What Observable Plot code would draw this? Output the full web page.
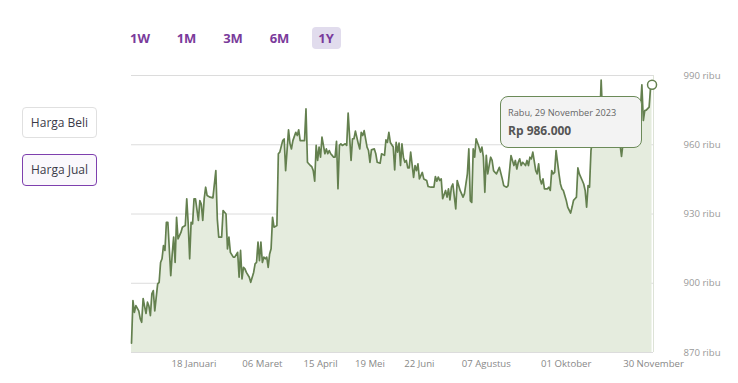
<!DOCTYPE html>
<html>
<head>
<meta charset="utf-8">
<script src="https://cdn.jsdelivr.net/npm/d3@7"></script>
<script src="https://cdn.jsdelivr.net/npm/@observablehq/plot@0.6"></script>
<style>
  html, body { margin: 0; padding: 0; background: #fff; }
  body { font-family: 'Open Sans', sans-serif; }
  #wrap { position: relative; width: 738px; height: 383px; overflow: hidden; }
  #chart { position: absolute; left: 0; top: 0; }
  #ranges { position: absolute; left: 125.5px; top: 27px; display: flex; gap: 17.5px; }
  .rng { width: 29px; height: 22px; line-height: 22px; text-align: center; font-weight: 700; font-size: 13px; color: #7a3b9b; border-radius: 4px; }
  .rng.active { background: #e1dced; }
  .side { position: absolute; left: 22px; width: 75px; box-sizing: border-box; border-radius: 4px; text-align: center; font-size: 12px; color: #3a3a48; }
  #beli { top: 107px; height: 31px; line-height: 29px; border: 1px solid #e0e0e0; background: #fff; }
  #jual { top: 154px; height: 32px; line-height: 30px; border: 1px solid #7e3fae; background: #faf8fc; }
  #tip { position: absolute; left: 500px; top: 96px; width: 142px; height: 52px; box-sizing: border-box; border: 1px solid #6b8a58; border-radius: 8px; background: #f3f3f3; }
  #tipDate { position: absolute; left: 7px; top: 9px; font-size: 9.2px; line-height: 13px; color: #666; white-space: nowrap; }
  #tipVal { position: absolute; left: 7px; top: 26px; font-size: 12px; line-height: 15px; font-weight: 700; color: #555; white-space: nowrap; }
</style>
</head>
<body>
<div id="wrap">
  <div id="chart"></div>
  <div id="ranges"></div>
  <div class="side" id="beli"></div>
  <div class="side" id="jual"></div>
  <div id="tip"><div id="tipDate"></div><div id="tipVal"></div></div>
</div>
<script>
// ---- data (price in thousand rupiah, "ribu"), day offsets from 6 Dec 2022 ----
const startDate = "2022-12-06";
const endDate = "2023-11-30";
const dayOffsets = [0,1,2,3,5,6,7,8,9,10,11,12,13,14,15,16,18,19,20,21,22,23,24,25,27,28,29,30,31,32,34,35,37,38,39,40,41,42,43,44,46,47,48,49,50,51,52,54,56,58,59,60,62,63,65,66,67,68,70,71,73,74,75,76,77,78,79,81,82,84,85,86,87,88,89,90,91,92,93,94,95,96,97,98,100,101,102,104,105,106,108,109,110,111,113,114,115,116,117,119,120,121,123,124,125,126,127,128,129,130,131,132,133,134,135,136,137,138,139,140,141,142,143,144,145,147,148,149,151,152,153,154,156,157,158,159,160,162,163,164,165,167,168,169,171,172,174,175,176,177,178,180,181,182,183,184,185,186,187,188,189,190,191,192,194,195,196,197,198,199,200,201,203,204,206,208,209,210,211,212,213,214,216,217,218,219,220,221,223,224,225,226,228,229,231,232,233,234,235,236,237,239,240,241,242,243,244,245,247,248,249,250,251,252,253,255,256,257,258,259,260,261,263,264,265,266,267,268,269,271,272,273,274,275,276,278,279,280,281,282,283,284,286,287,288,289,290,291,292,294,295,296,297,298,299,300,302,303,304,305,306,307,308,310,311,312,313,314,315,316,317,319,320,321,322,323,324,326,327,328,330,331,332,334,335,336,337,339,340,341,343,344,345,347,348,350,351,352,353,354,356,357,358];
const prices = [874,892.5,887.4,890.3,888,884.7,883.1,893.4,890,886.9,891.8,890,886,895.4,896.8,888,899.7,900.4,909,910.6,916.3,914.2,926.4,926.4,903.3,912.7,920,909,928.6,919.2,922,924.3,925,936.6,925.7,910.6,926.4,925.7,936.6,936.6,927.2,935.8,934.3,927.2,936.6,941.6,938,937.3,937,948.8,927.9,920,920,931.5,930,914.9,920,913.4,911.3,911.3,913.4,902.6,914.2,901.9,906.9,906.2,904.7,902.6,900.4,904.7,908.4,909,917.8,909.8,917.8,909,911.3,910.6,911.3,906.9,912.7,914.9,928.6,924.3,925,956.1,956.8,961.8,962.5,948.8,966.5,960.4,958.2,961.8,965.4,964,966.5,961.8,961.8,961.8,975.5,952.4,951,950.5,948.8,944.2,959.7,953.2,959,954.6,963.3,959.7,956.1,958.2,956.1,957.5,956.1,955.4,954.6,954.6,961.5,940.9,959.7,960.4,959.7,960.4,959.7,973.7,953.2,962.6,962.6,965.9,960.4,958.2,965.4,964,966.1,959,957.5,952.4,957.8,958.2,956.1,952.4,952,956.1,955.4,962.1,961,965.4,961,959,949.1,961,956.8,960.7,951,960.4,954.6,952.4,953.2,950,950,956.8,945.9,951,948.8,951.7,945.2,946.6,948,945.2,944.5,941.9,941.6,941.6,946.2,944.2,946,944.5,945.2,936.6,940.2,937.3,940.9,936.1,941.6,943,932.2,944.5,942.3,940.2,937.3,938.8,947.4,958.2,935.8,935,958.2,954.6,962.6,959,956.8,959,954.6,939.4,955.4,947.4,954.6,953.2,948.8,948,947.4,948.8,950.2,945.2,942.3,941.9,941.6,942.3,948.8,955.3,951,953.2,949.5,952.4,953.9,951,952.4,951,953.2,951,954.6,953.9,956.8,948.8,947.4,951.7,945.2,943,945.2,940.9,940.9,941.6,940.2,948.8,947.4,948,957.5,947.4,943,940.9,940.2,938,935.9,933,930.4,933,935.9,936.6,937.3,950,947.4,944.5,943,940.2,933,942.3,941.6,957.5,962,968,965,972,970,988,972,975,970,973,968,971,966,969,963,960,955,966,970,968,972,975,973,970,976,975,986,970.5,974.8,975,976.3,985,986];

const yTicks = [870, 900, 930, 960, 990];
const tickDates = ["2023-01-18","2023-03-06","2023-04-15","2023-05-19","2023-06-22","2023-08-07","2023-10-01","2023-11-30"];
const tickLabels = ["18 Januari","06 Maret","15 April","19 Mei","22 Juni","07 Agustus","01 Oktober","30 November"];
const ranges = ["1W","1M","3M","6M","1Y"];
const activeRange = "1Y";
const seriesButtons = ["Harga Beli","Harga Jual"];
const tooltipDate = "Rabu, 29 November 2023";

// ---- build ----
const parse = d3.utcParse("%Y-%m-%d");
const start = parse(startDate);
const xEnd = parse(endDate);
const data = dayOffsets.map((d, i) => ({date: d3.utcDay.offset(start, d), price: prices[i]}));
const last = data[data.length - 1];
const tDates = tickDates.map(parse);
const labelMap = new Map(tDates.map((d, i) => [+d, tickLabels[i]]));
const green = "#64804f";

const chart = Plot.plot({
  width: 738,
  height: 383,
  marginLeft: 131,
  marginRight: 85,
  marginTop: 75,
  marginBottom: 31,
  style: {fontFamily: "'Open Sans', sans-serif", background: "transparent", overflow: "visible"},
  x: {type: "utc", domain: [start, xEnd]},
  y: {domain: [870, 990]},
  marks: [
    Plot.gridY(yTicks, {stroke: "#dcdcdc", strokeOpacity: 1}),
    Plot.areaY(data, {x: "date", y1: () => 870, y2: "price", fill: "#e5ecde"}),
    Plot.ruleX([xEnd], {stroke: "#dde3d7"}),
    Plot.lineY(data, {x: "date", y: "price", stroke: green, strokeWidth: 1.7}),
    Plot.dot([last], {x: "date", y: "price", r: 4.5, stroke: green, strokeWidth: 1.5, fill: "white"}),
    Plot.axisY(yTicks, {anchor: "right", tickSize: 0, tickPadding: 30, tickFormat: d => `${d} ribu`, fill: "#999", fontSize: 9.6, label: null}),
    Plot.axisX(tDates, {anchor: "bottom", tickSize: 0, tickPadding: 8, tickFormat: d => labelMap.get(+d), fill: "#888", fontSize: 9.6, label: null})
  ]
});
document.getElementById("chart").appendChild(chart);

const rngEl = document.getElementById("ranges");
ranges.forEach(r => {
  const el = document.createElement("div");
  el.className = "rng" + (r === activeRange ? " active" : "");
  el.textContent = r;
  rngEl.appendChild(el);
});
document.getElementById("beli").textContent = seriesButtons[0];
document.getElementById("jual").textContent = seriesButtons[1];
document.getElementById("tipDate").textContent = tooltipDate;
document.getElementById("tipVal").textContent = "Rp " + d3.format(",")(Math.round(last.price * 1000)).replace(/,/g, ".");
</script>
</body>
</html>
